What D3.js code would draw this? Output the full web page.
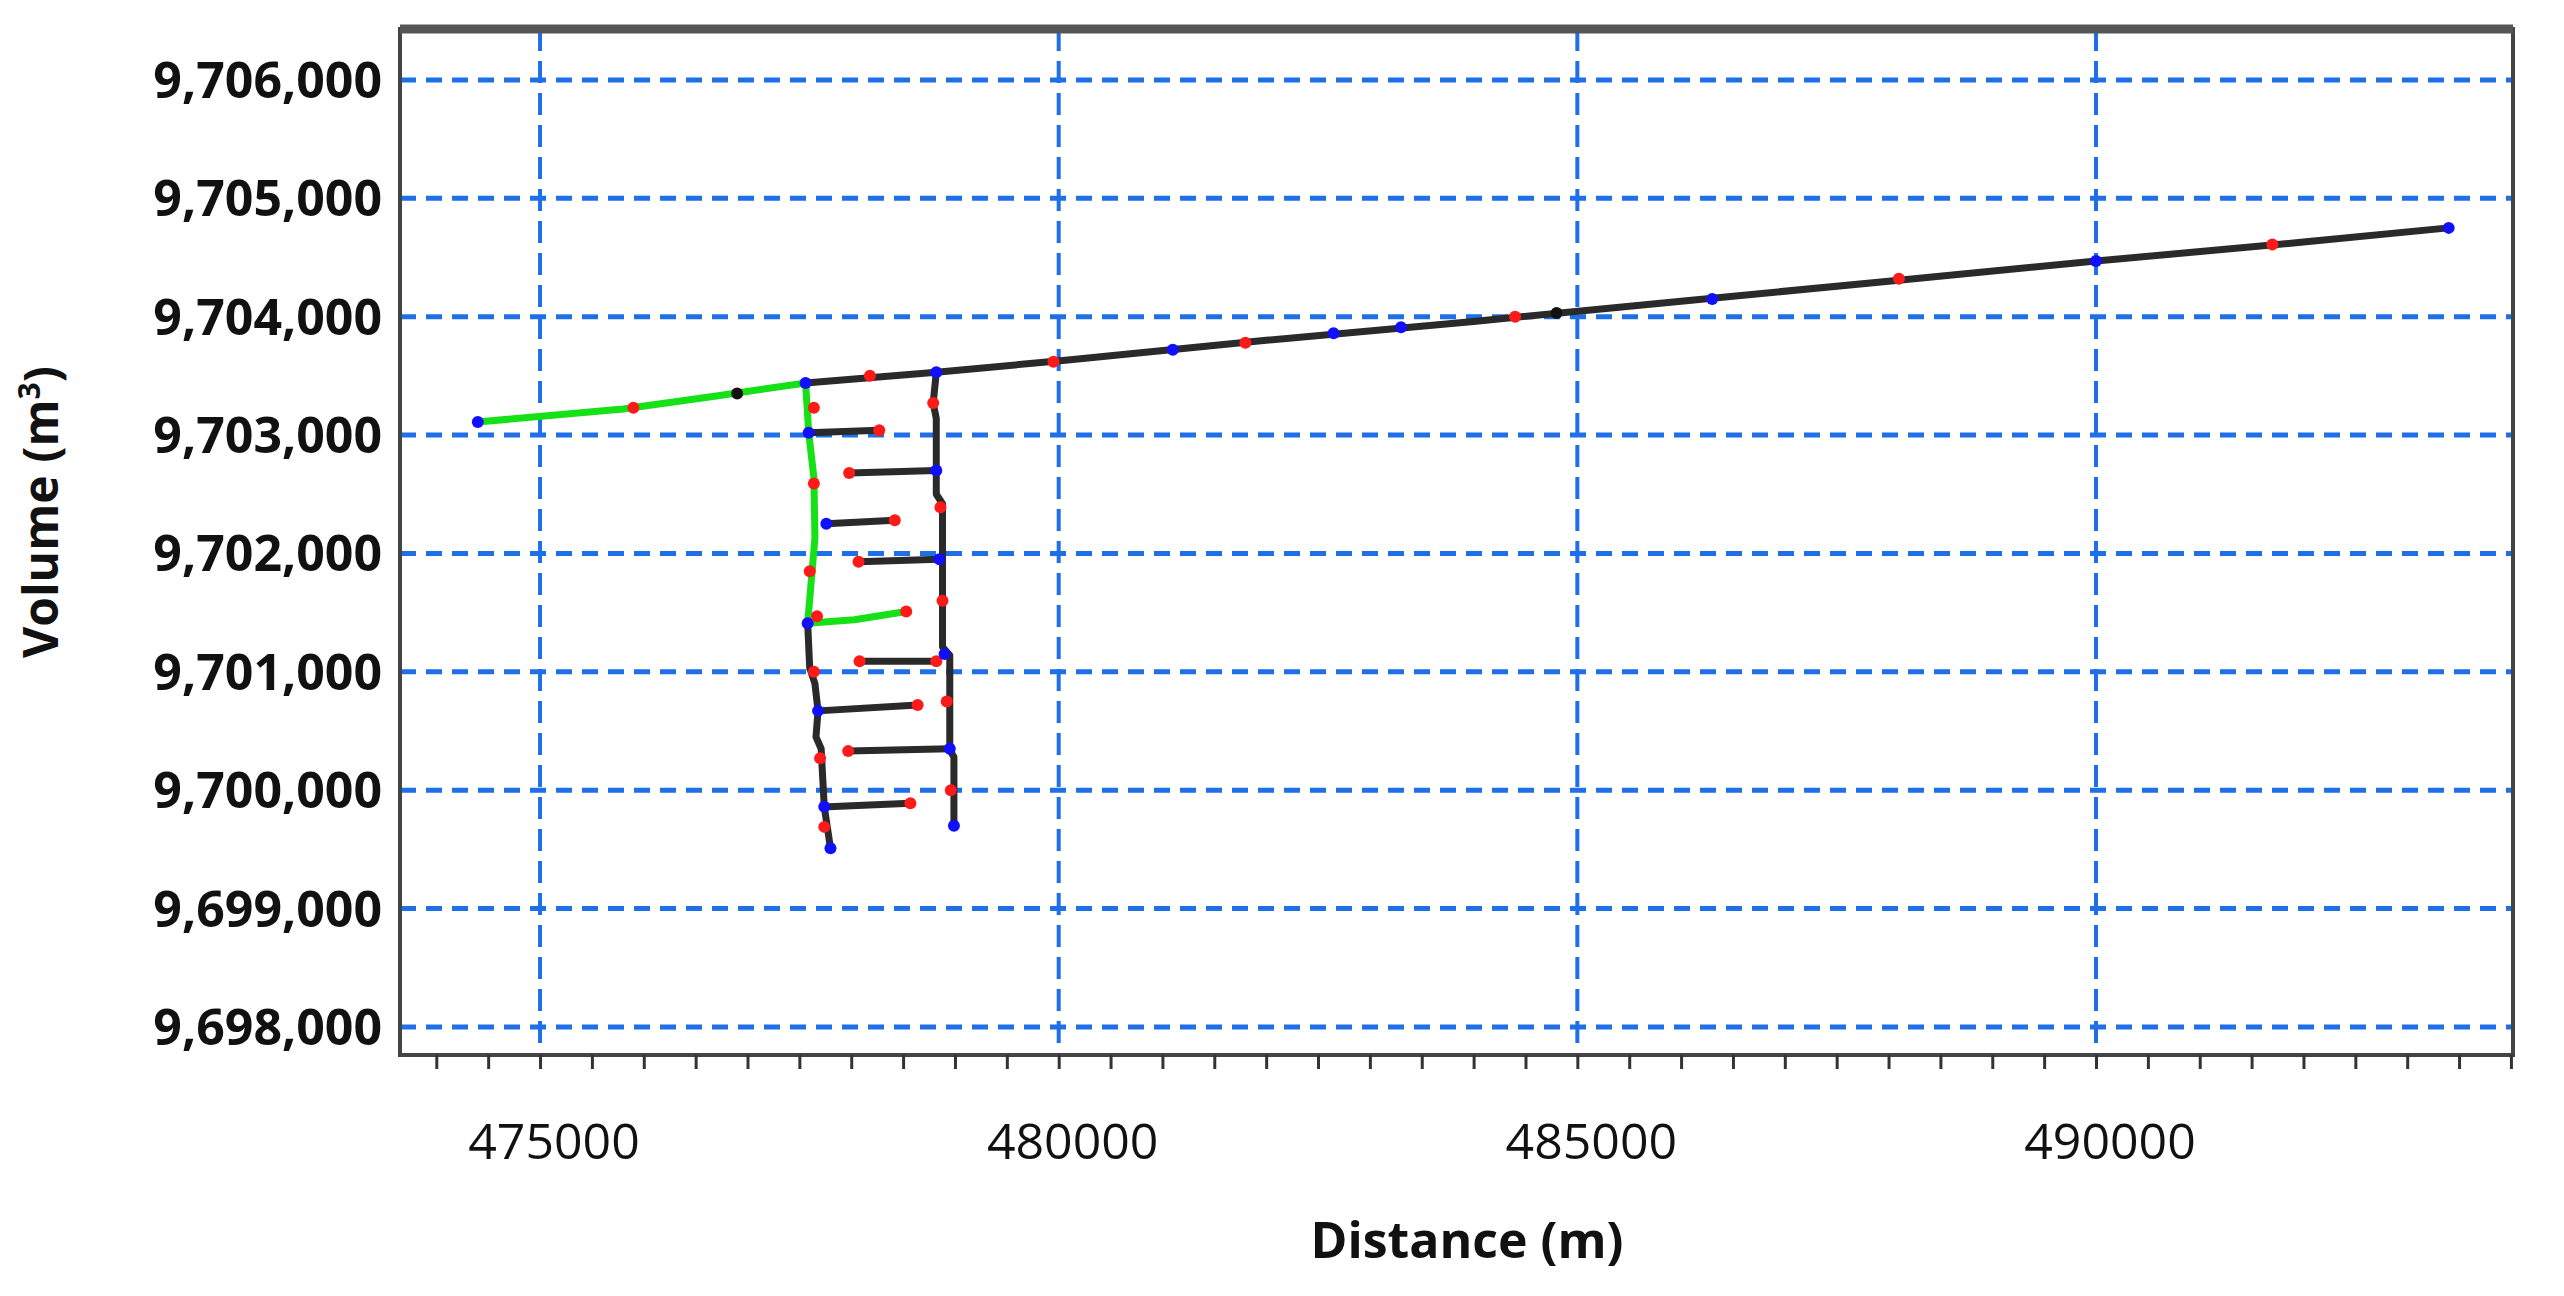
<!DOCTYPE html>
<html>
<head>
<meta charset="utf-8">
<script src="https://cdn.jsdelivr.net/npm/d3@7"></script>
<style>
  body { margin: 0; background: #fff; }
  text { font-family: "Open Sans", sans-serif; }
</style>
</head>
<body>
<svg id="chart" width="2564" height="1296"></svg>
<script>
// Tick values
const xTicks = [475000, 480000, 485000, 490000];
const yTicks = [9698000, 9699000, 9700000, 9701000, 9702000, 9703000, 9704000, 9705000, 9706000];
const xMinorTicks = d3.range(474000, 494001, 500);

// Green branch (upstream segment)
const greenTop = [[474400, 9703110], [475800, 9703220], [476700, 9703330], [477560, 9703440]];
const greenLeft = [[477560, 9703440], [477590, 9703020], [477640, 9702640], [477650, 9702130], [477580, 9701410]];
const greenRung = [[477580, 9701410], [478030, 9701440], [478530, 9701510]];

// Black network
const mainLine = [[477560, 9703440], [478820, 9703530], [480040, 9703630], [482000, 9703800], [484000, 9703960],
  [486000, 9704130], [488000, 9704300], [490000, 9704470], [492000, 9704630], [493400, 9704750]];
const leftTrunk = [[477580, 9701410], [477600, 9701030], [477650, 9700900], [477680, 9700670], [477660, 9700450],
  [477710, 9700350], [477740, 9699860], [477800, 9699510]];
const rightTrunk = [[478820, 9703530], [478790, 9703270], [478820, 9703140], [478820, 9702500], [478880, 9702420],
  [478880, 9701920], [478880, 9701210], [478950, 9701140], [478950, 9700340], [478990, 9700280], [478990, 9699700]];
const rungs = [
  [[477590, 9703020], [478270, 9703040]],
  [[477980, 9702680], [478820, 9702700]],
  [[477760, 9702250], [478420, 9702280]],
  [[478070, 9701930], [478850, 9701950]],
  [[478080, 9701090], [478820, 9701090]],
  [[477680, 9700670], [478640, 9700720]],
  [[477970, 9700330], [478950, 9700350]],
  [[477780, 9699860], [478570, 9699890]]
];

// Node markers: [x, y, colour key]
const markers = [
  [474400, 9703110, "b"], [475900, 9703230, "r"], [476900, 9703350, "k"], [477560, 9703440, "b"],
  [478180, 9703500, "r"], [478820, 9703530, "b"], [479950, 9703620, "r"], [481100, 9703720, "b"],
  [481800, 9703780, "r"], [482650, 9703860, "b"], [483300, 9703910, "b"], [484400, 9704000, "r"],
  [484800, 9704030, "k"], [486300, 9704150, "b"], [488100, 9704320, "r"], [490000, 9704470, "b"],
  [491700, 9704610, "r"], [493400, 9704750, "b"],
  [477640, 9703230, "r"], [477590, 9703020, "b"], [478270, 9703040, "r"], [478790, 9703270, "r"],
  [477640, 9702590, "r"], [477980, 9702680, "r"], [478820, 9702700, "b"], [478860, 9702390, "r"],
  [477760, 9702250, "b"], [478420, 9702280, "r"], [477600, 9701850, "r"], [478070, 9701930, "r"],
  [478850, 9701950, "b"], [478880, 9701600, "r"], [477580, 9701410, "b"], [477670, 9701470, "r"],
  [478530, 9701510, "r"], [478080, 9701090, "r"], [478820, 9701090, "r"], [478900, 9701150, "b"],
  [477640, 9701000, "r"], [477680, 9700670, "b"], [478640, 9700720, "r"], [478920, 9700750, "r"],
  [477700, 9700270, "r"], [477970, 9700330, "r"], [478950, 9700350, "b"], [478960, 9700000, "r"],
  [477740, 9699860, "b"], [478570, 9699890, "r"], [477740, 9699690, "r"], [477800, 9699510, "b"],
  [478990, 9699700, "b"]
];
const markerColour = { r: "#ff1a1a", b: "#1010ff", k: "#111" };

const svg = d3.select("#chart");
const margin = { top: 29, right: 51, bottom: 241, left: 400 };
const width = 2564 - margin.left - margin.right;
const height = 1296 - margin.top - margin.bottom;

const x = d3.scaleLinear().domain([473650, 494020]).range([0, width]);
const y = d3.scaleLinear().domain([9697763, 9706430]).range([height, 0]);

const g = svg.append("g").attr("transform", `translate(${margin.left},${margin.top})`);

// Grid
g.selectAll(".hgrid").data(yTicks).join("line")
  .attr("x1", 0).attr("x2", width)
  .attr("y1", d => y(d)).attr("y2", d => y(d))
  .attr("stroke", "#1f6fe8").attr("stroke-width", 5).attr("stroke-dasharray", "16 10");
g.selectAll(".vgrid").data(xTicks).join("line")
  .attr("x1", d => x(d)).attr("x2", d => x(d))
  .attr("y1", 0).attr("y2", height)
  .attr("stroke", "#1f6fe8").attr("stroke-width", 4).attr("stroke-dasharray", "22 10");

// Frame
g.append("rect").attr("width", width).attr("height", height)
  .attr("fill", "none").attr("stroke", "#444").attr("stroke-width", 4);
g.append("line").attr("x1", 0).attr("x2", width).attr("y1", 0).attr("y2", 0)
  .attr("stroke", "#555").attr("stroke-width", 9);

// Axes
const xAxis = g.append("g").attr("transform", `translate(0,${height})`)
  .call(d3.axisBottom(x).tickValues(xMinorTicks).tickSize(14).tickFormat(""));
xAxis.select(".domain").remove();
xAxis.selectAll("line").attr("stroke", "#333").attr("stroke-width", 3);

g.selectAll(".xlab").data(xTicks).join("text")
  .attr("x", d => x(d) + 14).attr("y", height + 104)
  .attr("text-anchor", "middle").attr("font-size", 50).attr("fill", "#111")
  .text(d => d);

g.selectAll(".ylab").data(yTicks).join("text")
  .attr("x", -18).attr("y", d => y(d)).attr("dy", "0.36em")
  .attr("text-anchor", "end").attr("font-size", 50).attr("font-weight", "bold").attr("fill", "#111")
  .text(d => d3.format(",")(d));

svg.append("text")
  .attr("transform", `translate(1467,1258)`)
  .attr("text-anchor", "middle").attr("font-size", 50).attr("font-weight", "bold").attr("fill", "#111")
  .text("Distance (m)");

const yl = svg.append("text")
  .attr("transform", `translate(58,${margin.top + height / 2 - 30}) rotate(-90)`)
  .attr("text-anchor", "middle").attr("font-size", 48).attr("font-weight", "bold").attr("fill", "#111");
yl.append("tspan").text("Volume (m");
yl.append("tspan").attr("font-size", 30).attr("dy", "-0.6em").text("3");
yl.append("tspan").attr("dy", "0.4em").text(")");

// Lines
const line = d3.line().x(d => x(d[0])).y(d => y(d[1]));
const blackPaths = [mainLine, leftTrunk, rightTrunk, ...rungs];
g.selectAll(".blk").data(blackPaths).join("path")
  .attr("d", line).attr("fill", "none").attr("stroke", "#2a2a2a")
  .attr("stroke-width", 7).attr("stroke-linejoin", "round");
g.selectAll(".grn").data([greenTop, greenLeft, greenRung]).join("path")
  .attr("d", line).attr("fill", "none").attr("stroke", "#16e016")
  .attr("stroke-width", 7).attr("stroke-linejoin", "round");

// Markers
g.selectAll(".mk").data(markers).join("circle")
  .attr("cx", d => x(d[0])).attr("cy", d => y(d[1])).attr("r", 6)
  .attr("fill", d => markerColour[d[2]]);
</script>
</body>
</html>
